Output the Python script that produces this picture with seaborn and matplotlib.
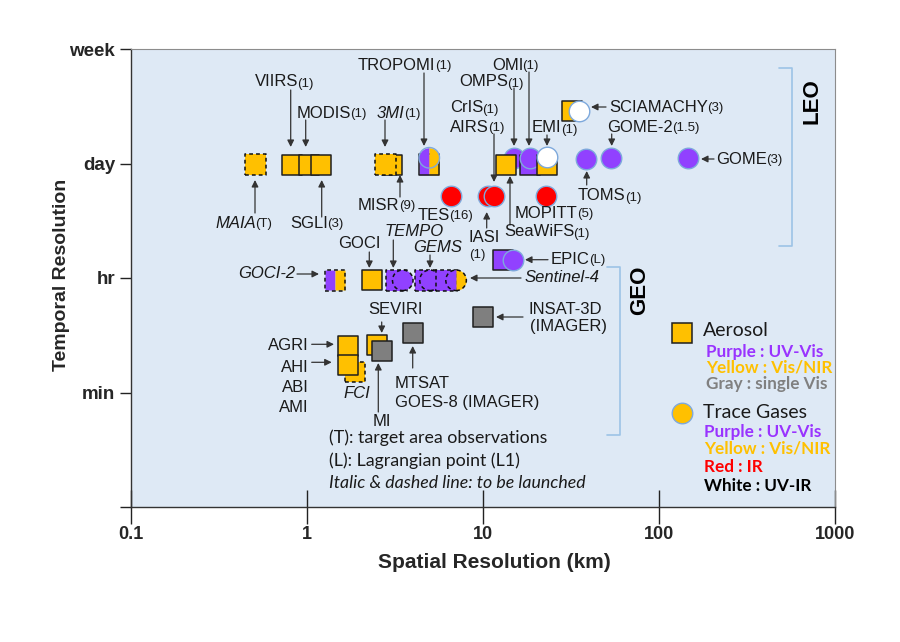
import matplotlib
matplotlib.use("Agg")
import matplotlib.pyplot as plt
from matplotlib.lines import Line2D
import pandas as pd
import seaborn as sns

# --- DATA (rows are drawn in this order, later ones sit on top) ---
sensor = ["MAIA", "VIIRS", "MODIS", "SGLI", "MISR", "3MI",
          "TROPOMI", "TROPOMI", "OMPS", "SeaWiFS", "OMI", "OMI", "EMI", "EMI",
          "TOMS", "GOME-2", "GOME", "SCIAMACHY", "SCIAMACHY",
          "TES", "IASI", "AIRS", "MOPITT",
          "GOCI-2", "GOCI", "TEMPO", "TEMPO", "GEMS", "GEMS", "Sentinel-4", "Sentinel-4",
          "EPIC", "EPIC",
          "FCI", "AGRI", "AHI", "SEVIRI", "MI", "MTSAT", "INSAT-3D"]
spatial_km = [0.51, 0.82, 1.02, 1.2, 3.06, 2.79,
              4.93, 4.95, 15.0, 13.5, 18.6, 18.5, 23.0, 23.0,
              38.5, 53.6, 146, 32.0, 35.1,
              6.55, 10.7, 11.5, 22.9,
              1.44, 2.33, 3.22, 3.5, 4.7, 5.0, 6.19, 7.03,
              13.0, 14.8,
              1.87, 1.71, 1.71, 2.51, 2.66, 4.0, 10.0]
# temporal level: 0 = bottom, 1 = min, 2 = hr, 3 = day, 4 = week
temporal_lvl = [2.99, 2.99, 2.99, 2.99, 2.99, 2.99,
                2.99, 3.05, 3.05, 2.99, 2.99, 3.05, 2.99, 3.06,
                3.04, 3.05, 3.05, 3.46, 3.46,
                2.715, 2.715, 2.715, 2.715,
                1.98, 1.98, 1.98, 1.98, 1.98, 1.98, 1.98, 1.98,
                2.16, 2.16,
                1.18, 1.405, 1.24, 1.415, 1.36, 1.52, 1.66]
product = ["aerosol"] * 6 + ["aerosol", "gas", "gas", "aerosol", "aerosol", "gas", "aerosol", "gas",
           "gas", "gas", "gas", "aerosol", "gas",
           "gas", "gas", "gas", "gas",
           "aerosol", "aerosol", "aerosol", "gas", "aerosol", "gas", "aerosol", "gas",
           "aerosol", "gas",
           "aerosol", "aerosol", "aerosol", "aerosol", "aerosol", "aerosol", "aerosol"]
band = ["Vis/NIR"] * 6 + ["UV-Vis/NIR", "UV-Vis/NIR", "UV-Vis", "Vis/NIR", "UV-Vis", "UV-Vis",
        "Vis/NIR", "UV-IR",
        "UV-Vis", "UV-Vis", "UV-Vis", "Vis/NIR", "UV-IR",
        "IR", "IR", "IR", "IR",
        "UV-Vis/NIR", "Vis/NIR", "UV-Vis", "UV-Vis", "UV-Vis", "UV-Vis", "UV-Vis", "UV-Vis/NIR",
        "UV-Vis", "UV-Vis",
        "Vis/NIR", "Vis/NIR", "Vis/NIR", "Vis/NIR", "single Vis", "single Vis", "single Vis"]
planned = [True, False, False, False, False, True,
           False, False, False, False, False, False, False, False,
           False, False, False, False, False,
           False, False, False, False,
           True, False, True, True, True, True, True, True,
           False, False,
           True, False, False, False, False, False, False]

ytick_labels = ["", "min", "hr", "day", "week"]
xticks = [0.1, 1, 10, 100, 1000]

PURPLE = "#9141ff"
YELLOW = "#ffc000"
band_colour = {"UV-Vis": PURPLE, "Vis/NIR": YELLOW, "single Vis": "#7f7f7f",
               "IR": "#ff0000", "UV-IR": "#ffffff", "UV-Vis/NIR": "none"}
TXT = "#1a1a1a"
MS = 14.8  # marker size in points (about 20 px)

df = pd.DataFrame({"sensor": sensor, "km": spatial_km, "lvl": temporal_lvl,
                   "product": product, "band": band, "planned": planned})

sns.set_theme(style="white")
plt.rcParams["font.family"] = ["Liberation Sans", "DejaVu Sans"]

W, H = 900, 642
fig = plt.figure(figsize=(9, 6.42), dpi=100)
fig.patch.set_facecolor("white")
ax = fig.add_axes([131 / W, 1 - 507 / H, 704 / W, 458 / H])
ax.set_facecolor("#dee9f5")


def P(x, y):
    # reference-image pixel -> figure fraction
    return (x / W, 1 - y / H)


# --- MARKERS ---
for i, row in df.iterrows():
    mk = "s" if row["product"] == "aerosol" else "o"
    z = 3 + i * 0.1
    if row["band"] == "UV-Vis/NIR":
        ax.plot(row["km"], row["lvl"], marker=mk, ms=MS, fillstyle="left",
                markerfacecolor=PURPLE, markerfacecoloralt=YELLOW,
                markeredgecolor="none", linestyle="none", zorder=z - 0.05)
    if row["planned"]:
        edge, lw, ls = "#111111", 1.1, (0, (2.5, 2))
    elif mk == "s":
        edge, lw, ls = "#1f1f1f", 1.1, "solid"
    else:
        edge, lw, ls = "#7ea9dc", 1.0, "solid"
    sns.scatterplot(data=df.iloc[[i]], x="km", y="lvl", marker=mk, s=MS ** 2,
                    color=band_colour[row["band"]], edgecolor=edge, linewidth=lw,
                    linestyle=ls, zorder=z, ax=ax, legend=False)

# --- AXES ---
ax.set_xscale("log")
ax.set_xlim(0.1, 1000)
ax.set_ylim(0, 4)
ax.set_xticks(xticks)
ax.set_xticklabels(["0.1", "1", "10", "100", "1000"], fontsize=13, fontweight="bold")
ax.minorticks_off()
ax.set_yticks(range(5))
ax.set_yticklabels(ytick_labels, fontsize=13.5, fontweight="bold")
ax.tick_params(axis="x", direction="inout", length=25, width=1, color="#222222", pad=1.5)
ax.tick_params(axis="y", direction="out", length=8, width=1, color="#222222", pad=3.5, left=True)
ax.tick_params(axis="x", bottom=True)
for side in ["top", "right"]:
    ax.spines[side].set_color("#8c8c8c")
    ax.spines[side].set_linewidth(0.8)
for side in ["left", "bottom"]:
    ax.spines[side].set_color("#333333")
    ax.spines[side].set_linewidth(1.0)
ax.set_xlabel("Spatial Resolution (km)", fontsize=15, fontweight="bold")
ax.set_ylabel("Temporal Resolution", fontsize=14, fontweight="bold")
ax.xaxis.set_label_coords((494 - 131) / 704, (507 - 553) / 458)
ax.yaxis.set_label_coords((70 - 131) / 704, (507 - 275) / 458)


# --- LABELS & ARROWS ---
def label(x, y, main, sub="", italic=False, ha="left", size=12, subsize=9.5):
    t = fig.text(*P(x, y), main, ha=ha, va="center", fontsize=size, color=TXT,
                 style="italic" if italic else "normal", zorder=20)
    if sub:
        ax.annotate(sub, xy=(1, 0), xycoords=t, xytext=(-0.6, 0), textcoords="offset points",
                    ha="left", va="bottom", fontsize=subsize, color=TXT,
                    annotation_clip=False, zorder=20)
    return t


def arrow(x0, y0, x1, y1):
    ax.annotate("", xy=P(x1, y1), xycoords="figure fraction",
                xytext=P(x0, y0), textcoords="figure fraction",
                arrowprops=dict(arrowstyle="-|>", color="#333333", lw=0.9,
                                mutation_scale=10, shrinkA=0, shrinkB=0),
                annotation_clip=False, zorder=19)


# LEO
label(255, 82, "VIIRS", "(1)")
arrow(290.7, 90, 290.7, 147)
label(297, 113, "MODIS", "(1)")
arrow(305.7, 120, 305.7, 147)
label(377, 113, "3MI", "(1)", italic=True)
arrow(385, 120, 385, 147)
label(358, 65, "TROPOMI", "(1)")
arrow(424, 73, 424, 146)
label(492, 65, "OMI", "(1)")
arrow(529, 72, 529, 146)
label(459, 82, "OMPS", "(1)")
arrow(514, 88, 514, 146)
label(450, 108, "CrIS", "(1)")
label(450, 127, "AIRS", "(1)")
arrow(494, 134, 494, 182)
label(532, 128, "EMI", "(1)")
arrow(547, 135, 547, 146)
label(609, 107, "SCIAMACHY", "(3)")
arrow(606, 107, 591, 107)
label(607, 127, "GOME-2", "(1.5)")
arrow(611.7, 134, 611.7, 146)
label(716, 159, "GOME", "(3)")
arrow(714, 159, 701, 159)
label(578, 196, "TOMS", "(1)")
arrow(586.7, 185, 586.7, 171)
label(515, 213, "MOPITT", "(5)")
label(504, 232, "SeaWiFS", "(1)")
arrow(510, 225, 510, 176)
label(418, 215, "TES", "(16)")
label(469, 237, "IASI")
label(469, 255, "(1)", size=9.5)
arrow(486.7, 228, 486.7, 212)
label(358, 205, "MISR", "(9)")
arrow(400, 197, 400, 175)
label(215, 223, "MAIA", "(T)", italic=True)
arrow(255, 213, 255, 180)
label(290, 223, "SGLI", "(3)")
arrow(321.7, 217, 321.7, 180)

# GEO
label(551, 259, "EPIC", "(L)")
arrow(548, 259.7, 525, 259.7)
label(338, 244, "GOCI")
arrow(369.3, 252, 369.3, 268)
label(384, 231, "TEMPO", italic=True)
arrow(393.3, 240, 393.3, 268)
label(413, 247, "GEMS", italic=True)
arrow(430, 255, 430, 268)
label(295, 274, "GOCI-2", italic=True, ha="right")
arrow(297, 274, 319, 274)
label(525, 277, "Sentinel-4", italic=True)
arrow(521, 278, 470, 278)
label(528, 309, "INSAT-3D")
label(530, 327, "(IMAGER)")
arrow(523, 317, 496, 317)
label(368, 309, "SEVIRI")
arrow(381.7, 322, 381.7, 333)
label(309, 346, "AGRI", ha="right")
arrow(311.7, 344.3, 334, 344.3)
label(309, 367, "AHI", ha="right")
arrow(311.7, 362.3, 331.7, 362.3)
label(309, 387, "ABI", ha="right")
label(309, 408, "AMI", ha="right")
label(343, 394, "FCI", italic=True)
label(395, 383, "MTSAT")
label(395, 402, "GOES-8 (IMAGER)")
arrow(412.7, 368, 412.7, 346)
label(373, 422, "MI")
arrow(378.3, 412, 378.3, 363)

# notes
for yy, txt, st in [(438, "(T): target area observations", "normal"),
                    (461, "(L): Lagrangian point (L1)", "normal"),
                    (483, "Italic & dashed line: to be launched", "italic")]:
    fig.text(*P(329, yy), txt, ha="left", va="center", fontsize=12.8, family="Lato",
             style=st, color=TXT, zorder=20)

# orbit brackets
BR = "#9dc3e6"
fig.add_artist(Line2D([779 / W, 792 / W, 792 / W, 779 / W],
                      [1 - 68 / H, 1 - 68 / H, 1 - 246 / H, 1 - 246 / H], color=BR, lw=1.2))
fig.add_artist(Line2D([607 / W, 620 / W, 620 / W, 607 / W],
                      [1 - 267 / H, 1 - 267 / H, 1 - 435 / H, 1 - 435 / H], color=BR, lw=1.2))
fig.text(*P(812, 101), "LEO", rotation=90, ha="center", va="center", fontsize=16,
         fontweight="bold", color="black")
fig.text(*P(640, 290), "GEO", rotation=90, ha="center", va="center", fontsize=16,
         fontweight="bold", color="black")

# legend block
fig.add_artist(Line2D([682 / W], [1 - 333 / H], marker="s", ms=MS, markerfacecolor=YELLOW,
                      markeredgecolor="#1f1f1f", markeredgewidth=1.1, transform=fig.transFigure))
fig.add_artist(Line2D([682 / W], [1 - 413 / H], marker="o", ms=MS, markerfacecolor=YELLOW,
                      markeredgecolor="#7ea9dc", markeredgewidth=1.0, transform=fig.transFigure))
fig.text(*P(703, 331), "Aerosol", ha="left", va="center", fontsize=14, family="Lato", color=TXT)
fig.text(*P(703, 413), "Trace Gases", ha="left", va="center", fontsize=14, family="Lato", color=TXT)
legend_lines = [(706, 352, "Purple : UV-Vis", "#9933ff"),
                (706, 368, "Yellow : Vis/NIR", "#ffc000"),
                (706, 384, "Gray : single Vis", "#808080"),
                (704, 432, "Purple : UV-Vis", "#9933ff"),
                (704, 449, "Yellow : Vis/NIR", "#ffc000"),
                (704, 467, "Red : IR", "#ff0000"),
                (704, 486, "White : UV-IR", "#000000")]
for lx, ly, txt, col in legend_lines:
    fig.text(*P(lx, ly), txt, ha="left", va="center", fontsize=12.3, family="Lato",
             fontweight="bold", color=col)

fig.savefig("out.png", dpi=100)
